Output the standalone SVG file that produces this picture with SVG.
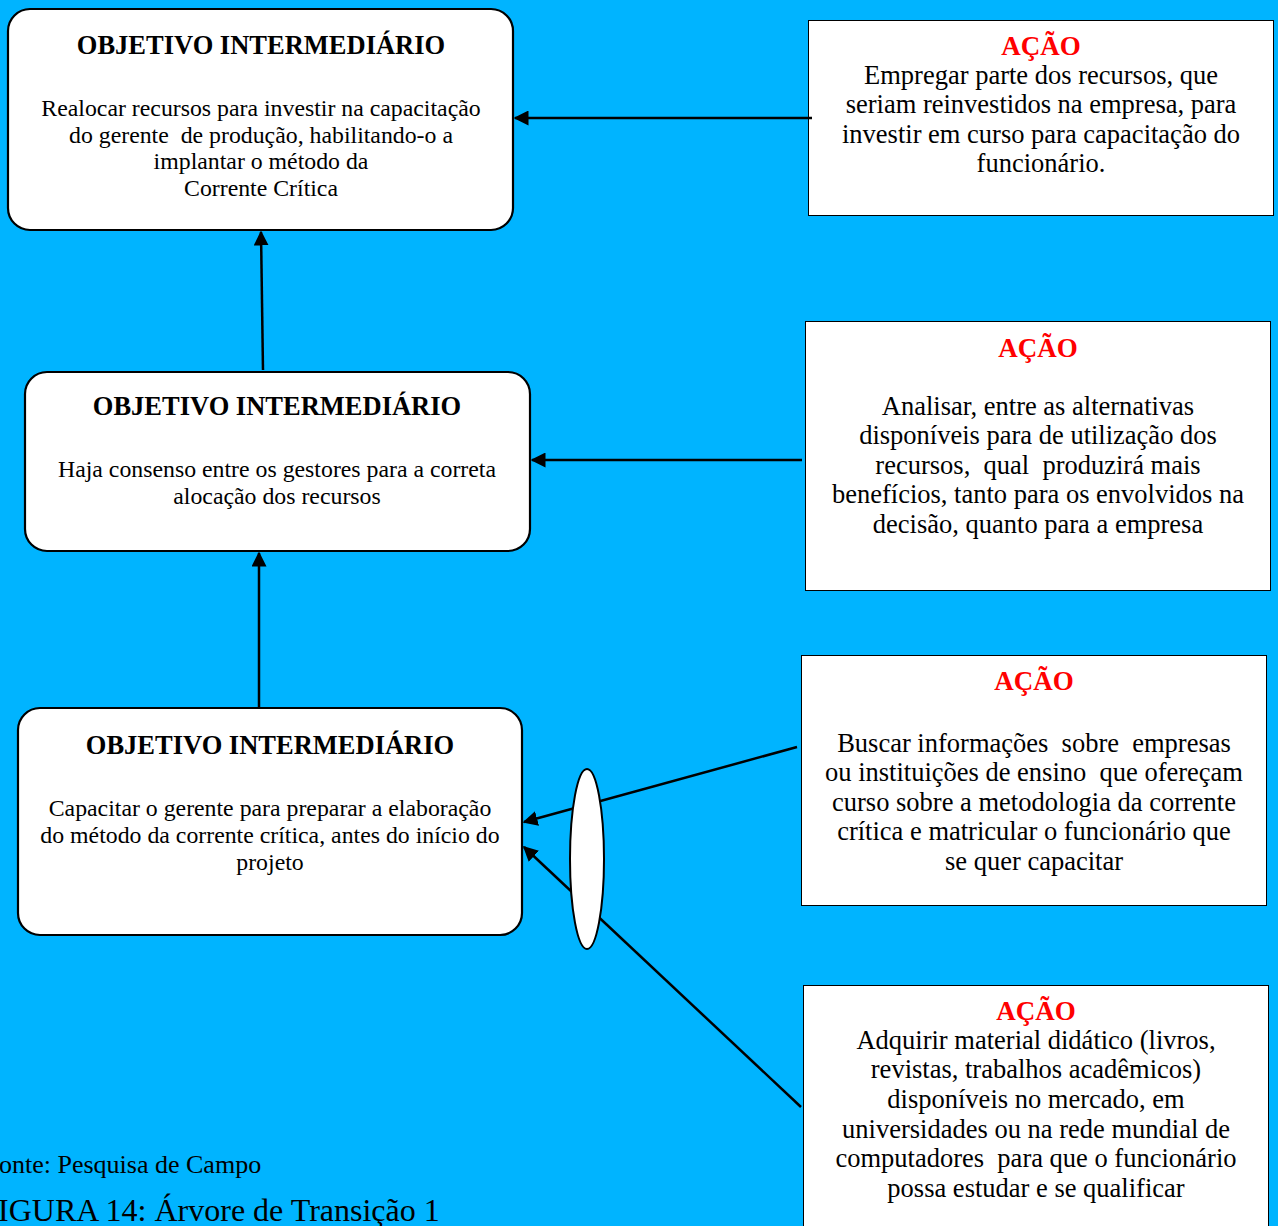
<svg xmlns="http://www.w3.org/2000/svg" width="1278" height="1226" viewBox="0 0 1278 1226">
  <defs>
    <style>
      .obj { fill: #ffffff; stroke: #000000; stroke-width: 2.2; }
      .act { fill: #ffffff; stroke: #000000; stroke-width: 1; }
      .title { font-family: "Liberation Serif", "Times New Roman", serif; font-weight: bold; font-size: 26.5px; text-anchor: middle; fill: #000000; }
      .body { font-family: "Liberation Serif", "Times New Roman", serif; font-size: 23.8px; text-anchor: middle; fill: #000000; }
      .acttitle { font-family: "Liberation Serif", "Times New Roman", serif; font-weight: bold; font-size: 27px; text-anchor: middle; fill: #ff0000; }
      .actbody { font-family: "Liberation Serif", "Times New Roman", serif; font-size: 26.5px; text-anchor: middle; fill: #000000; }
      .foot { font-family: "Liberation Serif", "Times New Roman", serif; fill: #000000; }
      .conn { stroke: #000000; stroke-width: 2.5; fill: none; marker-end: url(#arrow); }
    </style>
    <marker id="arrow" viewBox="0 0 10 10" refX="9" refY="5" markerWidth="6" markerHeight="6" markerUnits="strokeWidth" orient="auto">
      <path d="M0,0 L10,5 L0,10 z" fill="#000000"/>
    </marker>
  </defs>

  <rect x="0" y="0" width="1278" height="1226" fill="#00b4ff"/>

  <!-- objective nodes -->
  <g id="obj1">
    <rect class="obj" x="8" y="9" width="505" height="221" rx="22" ry="22"/>
    <text class="title" x="261" y="54">OBJETIVO INTERMEDIÁRIO</text>
    <text class="body" x="261" y="116">Realocar recursos para investir na capacitação</text>
    <text class="body" x="261" y="143" xml:space="preserve">do gerente  de produção, habilitando-o a</text>
    <text class="body" x="261" y="169">implantar o método da</text>
    <text class="body" x="261" y="196">Corrente Crítica</text>
  </g>

  <g id="obj2">
    <rect class="obj" x="25" y="372" width="505" height="179" rx="22" ry="22"/>
    <text class="title" x="277" y="415">OBJETIVO INTERMEDIÁRIO</text>
    <text class="body" x="277" y="477">Haja consenso entre os gestores para a correta</text>
    <text class="body" x="277" y="504">alocação dos recursos</text>
  </g>

  <g id="obj3">
    <rect class="obj" x="18" y="708" width="504" height="227" rx="22" ry="22"/>
    <text class="title" x="270" y="754">OBJETIVO INTERMEDIÁRIO</text>
    <text class="body" x="270" y="816">Capacitar o gerente para preparar a elaboração</text>
    <text class="body" x="270" y="843">do método da corrente crítica, antes do início do</text>
    <text class="body" x="270" y="870">projeto</text>
  </g>

  <!-- action nodes -->
  <g id="act1">
    <rect class="act" x="808.5" y="20.5" width="465" height="195"/>
    <text class="acttitle" x="1041" y="55">AÇÃO</text>
    <text class="actbody" x="1041" y="84">Empregar parte dos recursos, que</text>
    <text class="actbody" x="1041" y="113">seriam reinvestidos na empresa, para</text>
    <text class="actbody" x="1041" y="143">investir em curso para capacitação do</text>
    <text class="actbody" x="1041" y="172">funcionário.</text>
  </g>

  <g id="act2">
    <rect class="act" x="805.5" y="321.5" width="465" height="269"/>
    <text class="acttitle" x="1038" y="357">AÇÃO</text>
    <text class="actbody" x="1038" y="415">Analisar, entre as alternativas</text>
    <text class="actbody" x="1038" y="444">disponíveis para de utilização dos</text>
    <text class="actbody" x="1038" y="474" xml:space="preserve">recursos,  qual  produzirá mais</text>
    <text class="actbody" x="1038" y="503">benefícios, tanto para os envolvidos na</text>
    <text class="actbody" x="1038" y="533">decisão, quanto para a empresa</text>
  </g>

  <g id="act3">
    <rect class="act" x="801.5" y="655.5" width="465" height="250"/>
    <text class="acttitle" x="1034" y="690">AÇÃO</text>
    <text class="actbody" x="1034" y="752" xml:space="preserve">Buscar informações  sobre  empresas</text>
    <text class="actbody" x="1034" y="781" xml:space="preserve">ou instituições de ensino  que ofereçam</text>
    <text class="actbody" x="1034" y="811">curso sobre a metodologia da corrente</text>
    <text class="actbody" x="1034" y="840">crítica e matricular o funcionário que</text>
    <text class="actbody" x="1034" y="870">se quer capacitar</text>
  </g>

  <g id="act4">
    <rect class="act" x="803.5" y="985.5" width="465" height="260"/>
    <text class="acttitle" x="1036" y="1020">AÇÃO</text>
    <text class="actbody" x="1036" y="1049">Adquirir material didático (livros,</text>
    <text class="actbody" x="1036" y="1078">revistas, trabalhos acadêmicos)</text>
    <text class="actbody" x="1036" y="1108">disponíveis no mercado, em</text>
    <text class="actbody" x="1036" y="1138">universidades ou na rede mundial de</text>
    <text class="actbody" x="1036" y="1167" xml:space="preserve">computadores  para que o funcionário</text>
    <text class="actbody" x="1036" y="1197">possa estudar e se qualificar</text>
  </g>

  <!-- connectors -->
  <g id="connectors">
    <line class="conn" x1="812" y1="118" x2="515" y2="118"/>
    <line class="conn" x1="263" y1="370" x2="261" y2="232"/>
    <line class="conn" x1="802" y1="460" x2="532" y2="460"/>
    <line class="conn" x1="259" y1="708" x2="259" y2="553"/>
    <line class="conn" x1="797" y1="747" x2="524" y2="822"/>
    <line class="conn" x1="801" y1="1107" x2="524" y2="847"/>
  </g>

  <!-- joint ellipse over the two converging arrows -->
  <g id="and-ellipse">
    <ellipse cx="587" cy="859" rx="17" ry="90" fill="#ffffff" stroke="#000000" stroke-width="2"/>
  </g>

  <!-- caption -->
  <text class="foot" x="-1" y="1173" font-size="26">onte: Pesquisa de Campo</text>
  <text class="foot" x="-2" y="1221" font-size="32">IGURA 14: Árvore de Transição 1</text>
</svg>
